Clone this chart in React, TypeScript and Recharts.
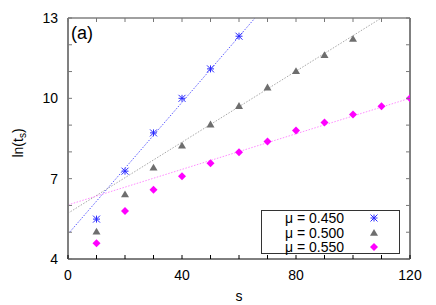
import { ComposedChart, Scatter, XAxis, YAxis, ReferenceLine, ReferenceArea, Legend } from 'recharts'

// s values and ln(t_s)
const S_450 = [10, 20, 30, 40, 50, 60]
const LN_450 = [5.49, 7.28, 8.71, 10.0, 11.1, 12.32]

const S_500 = [10, 20, 30, 40, 50, 60, 70, 80, 90, 100]
const LN_500 = [5.02, 6.41, 7.41, 8.23, 9.02, 9.71, 10.4, 11.01, 11.61, 12.22]

const S_550 = [10, 20, 30, 40, 50, 60, 70, 80, 90, 100, 110, 120]
const LN_550 = [4.59, 5.79, 6.59, 7.09, 7.58, 7.99, 8.39, 8.8, 9.1, 9.4, 9.7, 10.0]

// linear fits: ln(t_s) = a + b*s
const FIT_A = [4.93, 5.71, 6.02]
const FIT_B = [0.123, 0.0663, 0.0332]

const X_TICKS = [0, 10, 20, 30, 40, 50, 60, 70, 80, 90, 100, 110, 120]
const X_LABELS = [0, 40, 80, 120]
const Y_TICKS = [4, 5, 6, 7, 8, 9, 10, 11, 12, 13]
const Y_LABELS = [4, 7, 10, 13]

const LABELS = ['\u03bc = 0.450', '\u03bc = 0.500', '\u03bc = 0.550']

const W = 436
const H = 305
const PLOT = { left: 68, right: 410, top: 18, bottom: 259 }
const FONT = '"Liberation Sans", Arial, sans-serif'

const COLORS = {
  blue: '#2a2aff',
  gray: '#6e6e6e',
  magenta: '#ff00ff',
}
const LINE_COLORS = ['#5a5aff', '#a8a8a8', '#ff8cff']

const toPoints = (xs: number[], ys: number[]) => xs.map((s, i) => ({ s, v: ys[i] }))

function Star({ cx, cy, color }: any) {
  const r = 3.5
  return (
    <g stroke={color} strokeWidth={1}>
      <line x1={cx - r} y1={cy} x2={cx + r} y2={cy} />
      <line x1={cx} y1={cy - r} x2={cx} y2={cy + r} />
      <line x1={cx - r} y1={cy - r} x2={cx + r} y2={cy + r} />
      <line x1={cx - r} y1={cy + r} x2={cx + r} y2={cy - r} />
    </g>
  )
}

function Tri({ cx, cy, color }: any) {
  const r = 4
  return <polygon points={`${cx},${cy - r} ${cx - r},${cy + r * 0.7} ${cx + r},${cy + r * 0.7}`} fill={color} />
}

function Diamond({ cx, cy, color }: any) {
  const r = 4
  return <polygon points={`${cx},${cy - r} ${cx + r},${cy} ${cx},${cy + r} ${cx - r},${cy}`} fill={color} />
}

function XTick({ x, payload }: any) {
  const v = payload.value
  return (
    <g>
      <line x1={x} y1={PLOT.bottom} x2={x} y2={PLOT.bottom - 4} stroke="#000" />
      <line x1={x} y1={PLOT.top} x2={x} y2={PLOT.top + 4} stroke="#777" />
      {X_LABELS.includes(v) && (
        <text x={x} y={280} textAnchor="middle" fontSize={14} fontFamily={FONT} fill="#000">
          {v}
        </text>
      )}
    </g>
  )
}

function YTick({ y, payload }: any) {
  const v = payload.value
  return (
    <g>
      <line x1={PLOT.left} y1={y} x2={PLOT.left + 4} y2={y} stroke="#777" />
      <line x1={PLOT.right} y1={y} x2={PLOT.right - 4} y2={y} stroke="#777" />
      {Y_LABELS.includes(v) && (
        <text x={58} y={y + 5} textAnchor="end" fontSize={14} fontFamily={FONT} fill="#000">
          {v}
        </text>
      )}
    </g>
  )
}

function LegendBox() {
  const shapes = [
    <Star cx={8} cy={8} color={COLORS.blue} />,
    <Tri cx={8} cy={8} color={COLORS.gray} />,
    <Diamond cx={8} cy={8} color={COLORS.magenta} />,
  ]
  return (
    <div
      style={{
        width: 139,
        height: 44,
        border: '1px solid #333',
        background: '#fff',
        fontFamily: FONT,
        fontSize: 14,
        boxSizing: 'border-box',
      }}
    >
      {LABELS.map((l, i) => (
        <div key={l} style={{ height: 14.5, display: 'flex', alignItems: 'center', lineHeight: '14px' }}>
          <span style={{ width: 82, textAlign: 'right', display: 'inline-block' }}>{l}</span>
          <svg width={16} height={16} style={{ marginLeft: 22 }}>
            {shapes[i]}
          </svg>
        </div>
      ))}
    </div>
  )
}

function fitEnd(a: number, b: number) {
  const xEnd = Math.min(120, (13 - a) / b)
  return { x: xEnd, y: a + b * xEnd }
}

export default function App() {
  const series = [
    { data: toPoints(S_450, LN_450), Shape: Star, color: COLORS.blue },
    { data: toPoints(S_500, LN_500), Shape: Tri, color: COLORS.gray },
    { data: toPoints(S_550, LN_550), Shape: Diamond, color: COLORS.magenta },
  ]

  return (
    <div style={{ position: 'absolute', left: 0, top: 0, width: W, height: H, background: '#fff' }}>
      <ComposedChart
        width={W}
        height={H}
        margin={{ top: PLOT.top, right: W - PLOT.right, left: 0, bottom: 0 }}
      >
        <XAxis
          type="number"
          dataKey="s"
          domain={[0, 120]}
          ticks={X_TICKS}
          tick={<XTick />}
          tickLine={false}
          axisLine={false}
          height={H - PLOT.bottom}
          allowDataOverflow
          interval={0}
        />
        <YAxis
          type="number"
          dataKey="v"
          domain={[4, 13]}
          ticks={Y_TICKS}
          tick={<YTick />}
          tickLine={false}
          axisLine={false}
          width={PLOT.left}
          allowDataOverflow
          interval={0}
        />
        <ReferenceArea x1={0} x2={120} y1={4} y2={13} fill="none" stroke="none" />
        {FIT_A.map((a, i) => {
          const end = fitEnd(a, FIT_B[i])
          return (
            <ReferenceLine
              key={i}
              segment={[
                { x: 0, y: a },
                { x: end.x, y: end.y },
              ]}
              stroke={LINE_COLORS[i]}
              strokeWidth={1}
              strokeDasharray="1.5 1.5"
            />
          )
        })}
        {series.map(({ data, Shape, color }, i) => (
          <Scatter
            key={i}
            data={data}
            isAnimationActive={false}
            shape={(p: any) => <Shape cx={p.cx} cy={p.cy} color={color} />}
          />
        ))}
        {/* frame */}
        <ReferenceLine segment={[{ x: 0, y: 4 }, { x: 0, y: 13 }]} stroke="#808080" strokeWidth={2} />
        <ReferenceLine segment={[{ x: 120, y: 4 }, { x: 120, y: 13 }]} stroke="#808080" strokeWidth={2} />
        <ReferenceLine segment={[{ x: 0, y: 13 }, { x: 120, y: 13 }]} stroke="#808080" strokeWidth={1.5} />
        <ReferenceLine segment={[{ x: 0, y: 4 }, { x: 120, y: 4 }]} stroke="#000" strokeWidth={1} />
        <Legend
          layout="horizontal"
          verticalAlign="middle"
          content={() => <LegendBox />}
          wrapperStyle={{ position: 'absolute', left: 261, top: 210, width: 139, height: 44 }}
        />
        <text x={71} y={39} fontSize={18} fontFamily={FONT} fill="#000">
          (a)
        </text>
        <text x={239} y={301} textAnchor="middle" fontSize={14} fontFamily={FONT} fill="#000">
          s
        </text>
        <text
          x={23}
          y={143}
          transform="rotate(-90 23 143)"
          textAnchor="middle"
          fontSize={14}
          fontFamily={FONT}
          fill="#000"
        >
          ln(t
          <tspan fontSize={10} dy={3}>
            s
          </tspan>
          <tspan dy={-3}>)</tspan>
        </text>
      </ComposedChart>
    </div>
  )
}
